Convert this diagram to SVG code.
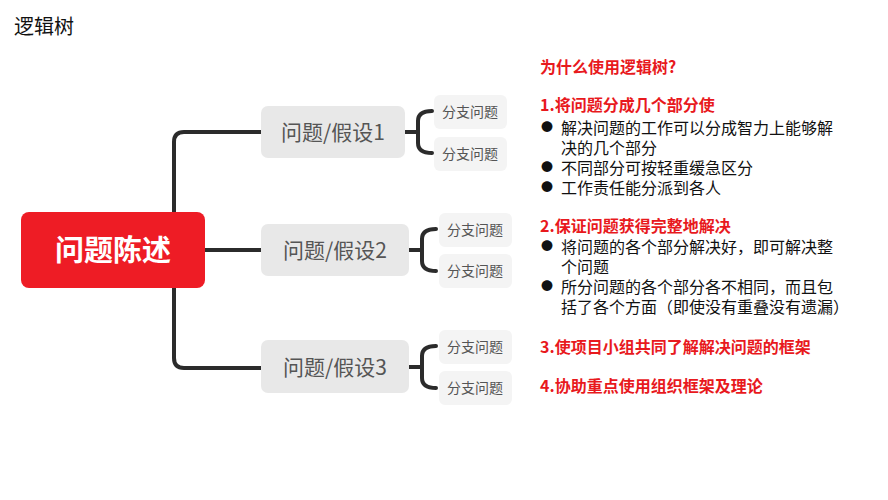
<svg xmlns="http://www.w3.org/2000/svg" width="888" height="500" viewBox="0 0 888 500">
<style>
text{font-family:"Noto Sans CJK SC","Liberation Sans",sans-serif}
.c{fill:none;stroke:#2b2b2b;stroke-width:4;stroke-linecap:round}
.b{fill:#e8e8e8}
.s{fill:#f4f4f4}
.bt{font-size:21px;fill:#555;text-anchor:middle}
.st{font-size:14px;fill:#555;text-anchor:middle}
.r{font-size:16px;fill:#e8191d;font-weight:bold}
.k{font-size:16px;fill:#111}
.d{font-size:12px;fill:#111}
</style>
<rect width="888" height="500" fill="#fff"/>
<text x="14" y="34" font-size="20" fill="#111">逻辑树</text>
<g id="connectors">
<path class="c" d="M261 132 H184 Q174 132 174 142 V358 Q174 368 184 368 H261"/>
<path class="c" d="M205 250 H261"/>
<path class="c" d="M405 132 H418 M432 111 Q418 111 418 121 V143 Q418 153 432 153"/>
<path class="c" d="M409 250 H422 M436 229 Q422 229 422 239 V261 Q422 271 436 271"/>
<path class="c" d="M409 367 H422 M436 346 Q422 346 422 356 V378 Q422 388 436 388"/>
</g>
<g id="root"><rect x="21" y="212" width="184" height="76" rx="8" fill="#ee1c25"/><text x="113" y="261" font-size="29" font-weight="bold" fill="#fff" text-anchor="middle">问题陈述</text></g>
<g id="h1"><rect class="b" x="261" y="106" width="144" height="52" rx="7"/><text class="bt" x="333" y="140">问题/假设1</text></g>
<g id="h2"><rect class="b" x="261" y="224" width="148" height="52" rx="7"/><text class="bt" x="335" y="258">问题/假设2</text></g>
<g id="h3"><rect class="b" x="261" y="340" width="148" height="53" rx="7"/><text class="bt" x="335" y="375">问题/假设3</text></g>
<g id="s11"><rect class="s" x="434" y="95" width="73" height="34" rx="6"/><text class="st" x="470" y="117">分支问题</text></g>
<g id="s12"><rect class="s" x="434" y="137" width="73" height="34" rx="6"/><text class="st" x="470" y="159">分支问题</text></g>
<g id="s21"><rect class="s" x="439" y="213" width="73" height="34" rx="6"/><text class="st" x="475" y="235">分支问题</text></g>
<g id="s22"><rect class="s" x="439" y="254" width="73" height="34" rx="6"/><text class="st" x="475" y="276">分支问题</text></g>
<g id="s31"><rect class="s" x="439" y="330" width="73" height="34" rx="6"/><text class="st" x="475" y="352">分支问题</text></g>
<g id="s32"><rect class="s" x="439" y="371" width="73" height="34" rx="6"/><text class="st" x="475" y="393">分支问题</text></g>
<g id="notes">
<text class="r" x="540" y="73">为什么使用逻辑树?</text>
<text class="r" x="540" y="111">1.将问题分成几个部分使</text>
<text class="d" x="541" y="132">●</text><text class="k" x="561" y="134">解决问题的工作可以分成智力上能够解</text>
<text class="k" x="561" y="154">决的几个部分</text>
<text class="d" x="541" y="172">●</text><text class="k" x="561" y="174">不同部分可按轻重缓急区分</text>
<text class="d" x="541" y="192">●</text><text class="k" x="561" y="194">工作责任能分派到各人</text>
<text class="r" x="540" y="232">2.保证问题获得完整地解决</text>
<text class="d" x="541" y="251">●</text><text class="k" x="561" y="253">将问题的各个部分解决好，即可解决整</text>
<text class="k" x="561" y="273">个问题</text>
<text class="d" x="541" y="291">●</text><text class="k" x="561" y="293">所分问题的各个部分各不相同，而且包</text>
<text class="k" x="561" y="313">括了各个方面（即使没有重叠没有遗漏）</text>
<text class="r" x="540" y="353">3.使项目小组共同了解解决问题的框架</text>
<text class="r" x="540" y="392">4.协助重点使用组织框架及理论</text>
</g>
</svg>
